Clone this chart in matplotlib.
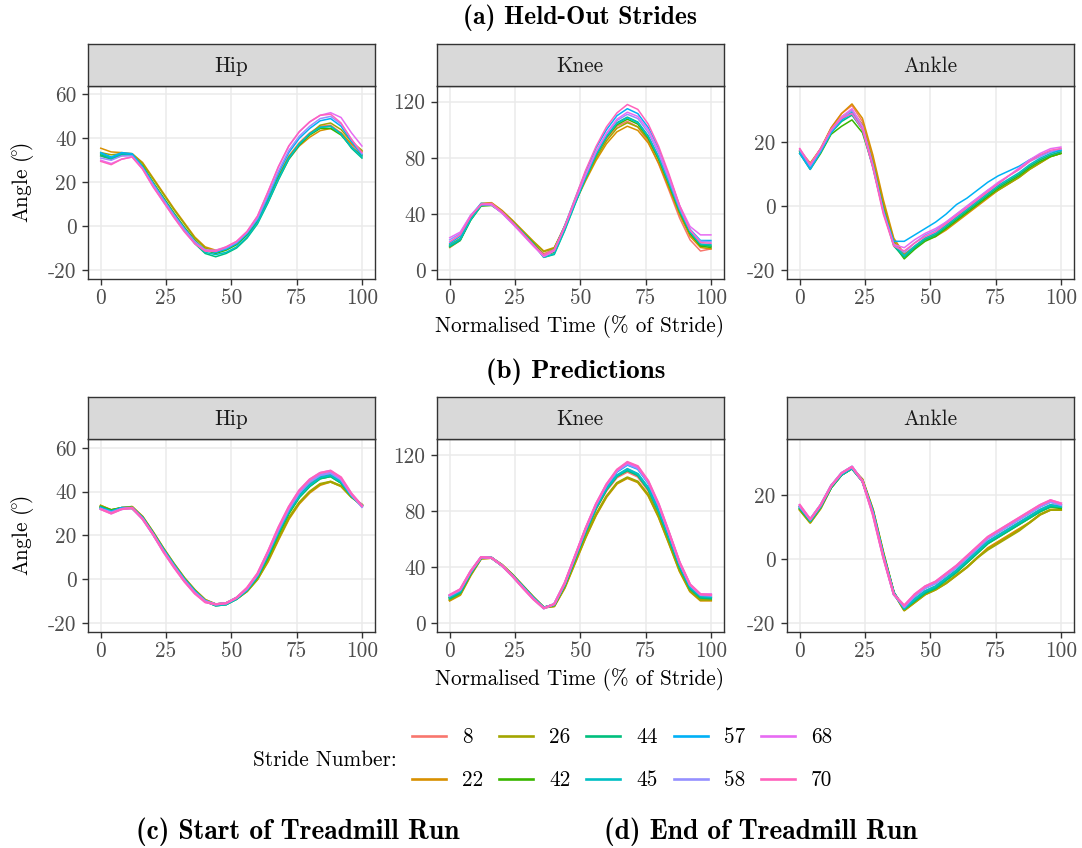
import matplotlib.pyplot as plt

plt.rcParams['font.family'] = ['cmr10', 'DejaVu Serif']
plt.rcParams['mathtext.fontset'] = 'cm'
plt.rcParams['axes.unicode_minus'] = False
plt.rcParams['axes.formatter.use_mathtext'] = True

strides = [8, 22, 26, 42, 44, 45, 57, 58, 68, 70]
colours = ['#F8766D', '#D89000', '#A3A500', '#39B600', '#00BF7D',
           '#00BFC4', '#00B0F6', '#9590FF', '#E76BF3', '#FF62BC']
pct = list(range(0, 101, 4))  # normalised time (% of stride)

# (a) held-out strides, joint angles in degrees
hip_held = {
    8:  [32.0, 30.5, 32.0, 32.5, 27.0, 19.5, 12.5, 5.5, -1.0, -7.0, -11.0, -12.0, -10.5, -8.0, -3.5, 3.0, 12.5, 23.0, 32.0, 38.0, 42.5, 45.5, 46.0, 42.5, 37.0, 32.5],
    22: [35.5, 33.8, 33.5, 33.0, 29.0, 22.0, 15.0, 8.0, 1.5, -5.0, -9.5, -11.0, -10.0, -8.0, -4.0, 2.0, 11.0, 21.5, 30.5, 36.5, 40.5, 43.5, 44.5, 42.5, 37.5, 34.0],
    26: [33.5, 32.5, 33.0, 33.0, 28.5, 21.5, 14.5, 7.5, 1.0, -5.5, -10.0, -11.5, -10.0, -8.0, -3.5, 2.5, 12.0, 22.5, 31.5, 37.5, 42.0, 46.0, 47.0, 44.0, 38.5, 34.5],
    42: [32.5, 31.0, 32.5, 32.5, 27.5, 20.0, 13.0, 6.0, -0.5, -6.5, -11.0, -12.5, -11.0, -8.5, -4.0, 2.0, 11.5, 22.0, 31.0, 37.0, 41.5, 44.5, 44.5, 41.5, 36.0, 32.0],
    44: [32.0, 30.5, 32.5, 32.5, 27.0, 19.5, 12.0, 5.0, -1.5, -8.0, -12.5, -14.0, -12.5, -10.0, -5.5, 1.0, 10.5, 21.0, 30.5, 37.0, 42.0, 45.0, 45.5, 42.0, 35.5, 31.0],
    45: [33.0, 31.0, 33.0, 32.5, 27.0, 19.5, 12.0, 5.0, -1.5, -7.5, -12.0, -13.0, -12.0, -9.5, -5.0, 1.5, 11.0, 21.5, 31.0, 37.5, 42.0, 45.0, 45.5, 42.0, 36.0, 31.5],
    57: [33.5, 31.5, 33.5, 33.0, 27.0, 19.5, 12.5, 5.5, -1.0, -7.0, -11.0, -12.0, -10.5, -8.0, -3.5, 3.0, 13.0, 24.0, 33.5, 40.0, 44.5, 48.0, 49.0, 45.5, 38.5, 32.5],
    58: [31.0, 30.0, 32.0, 32.0, 26.5, 19.0, 12.0, 5.0, -1.5, -7.0, -11.0, -11.5, -10.0, -7.5, -3.0, 3.5, 14.0, 25.0, 34.5, 41.0, 45.5, 49.0, 50.0, 46.5, 39.5, 33.0],
    68: [30.0, 28.5, 30.5, 31.5, 26.0, 18.0, 11.0, 4.0, -2.5, -8.0, -11.0, -11.0, -9.5, -7.0, -2.5, 4.5, 15.5, 27.0, 36.5, 43.0, 47.5, 50.5, 51.7, 49.5, 42.5, 36.5],
    70: [29.5, 28.0, 30.5, 31.5, 26.0, 18.0, 11.0, 4.0, -2.5, -8.0, -11.5, -11.5, -9.5, -7.0, -2.5, 4.5, 15.5, 27.0, 36.5, 43.0, 47.5, 50.5, 51.0, 47.0, 39.5, 33.5],
}
knee_held = {
    8:  [16.5, 21.5, 36.5, 47.0, 47.0, 41.0, 33.5, 26.0, 18.5, 11.5, 15.0, 31.5, 49.5, 66.0, 81.5, 93.5, 102.5, 106.0, 102.0, 91.5, 75.5, 56.5, 37.0, 21.5, 13.5, 15.0],
    22: [16.0, 21.0, 36.0, 47.5, 48.0, 42.5, 35.5, 28.0, 20.5, 13.5, 16.0, 31.0, 48.0, 63.5, 78.0, 90.0, 98.5, 102.5, 99.5, 90.5, 76.0, 58.0, 39.5, 24.0, 16.0, 15.0],
    26: [18.0, 22.5, 36.5, 47.0, 47.5, 42.0, 35.0, 27.5, 20.0, 13.0, 15.5, 31.0, 48.5, 64.5, 79.5, 92.0, 101.0, 105.0, 102.0, 93.0, 78.5, 60.0, 41.0, 25.5, 17.5, 17.0],
    42: [17.0, 21.5, 35.5, 45.5, 46.0, 41.0, 34.0, 26.5, 19.0, 10.5, 12.5, 29.5, 48.0, 65.5, 81.5, 94.5, 103.5, 107.5, 104.0, 94.0, 79.0, 60.5, 41.5, 26.0, 17.0, 16.0],
    44: [16.5, 21.0, 35.5, 46.0, 46.5, 41.0, 34.0, 26.5, 18.5, 9.0, 11.0, 28.0, 47.0, 65.5, 82.0, 95.5, 105.0, 109.0, 105.5, 95.5, 80.5, 62.0, 42.5, 27.0, 18.0, 17.0],
    45: [17.5, 22.0, 36.0, 46.0, 46.5, 41.0, 34.0, 26.5, 18.5, 9.0, 11.5, 28.5, 47.5, 65.5, 82.0, 95.0, 104.5, 108.5, 105.0, 95.0, 80.0, 61.5, 42.5, 27.0, 18.5, 18.0],
    57: [19.0, 24.0, 38.5, 47.5, 47.0, 41.0, 33.5, 25.5, 17.5, 10.0, 14.5, 31.5, 51.0, 70.0, 87.0, 100.0, 110.0, 115.0, 111.5, 101.5, 86.0, 66.5, 45.5, 29.0, 21.0, 21.0],
    58: [21.5, 26.0, 39.0, 47.0, 46.5, 40.5, 33.0, 25.5, 17.5, 10.0, 14.0, 30.5, 49.5, 67.5, 84.0, 97.0, 106.5, 111.0, 108.0, 98.0, 83.0, 64.0, 44.0, 28.5, 20.5, 20.0],
    68: [23.0, 27.0, 39.0, 46.5, 46.5, 40.5, 33.0, 25.0, 17.0, 9.5, 13.5, 30.5, 49.5, 68.0, 84.5, 97.5, 107.5, 112.5, 109.5, 100.0, 85.0, 66.0, 46.0, 31.0, 25.0, 25.0],
    70: [20.0, 25.0, 38.0, 47.0, 47.5, 41.5, 34.0, 26.0, 18.0, 10.5, 14.5, 31.0, 51.0, 71.0, 88.0, 102.0, 112.0, 118.0, 114.5, 104.0, 88.0, 68.0, 46.0, 28.5, 19.5, 19.0],
}
ankle_held = {
    8:  [17.5, 13.0, 18.0, 24.5, 29.0, 31.5, 26.5, 15.0, 1.0, -10.5, -15.0, -12.5, -10.0, -8.5, -6.0, -3.5, -1.0, 1.5, 4.0, 6.0, 8.0, 10.0, 12.5, 14.5, 16.0, 17.0],
    22: [17.5, 13.5, 18.0, 24.5, 29.0, 32.0, 27.5, 16.0, 2.0, -10.0, -15.0, -13.0, -10.5, -9.5, -7.5, -5.0, -2.5, 0.0, 2.5, 5.0, 7.0, 9.0, 11.5, 13.5, 15.5, 16.5],
    26: [17.0, 13.0, 18.0, 24.0, 28.0, 30.0, 25.5, 14.0, 0.5, -11.0, -15.5, -13.0, -10.5, -9.0, -7.0, -4.5, -2.0, 0.5, 3.0, 5.0, 7.0, 9.0, 11.5, 13.5, 15.5, 16.5],
    42: [16.5, 11.5, 16.5, 22.5, 25.0, 27.0, 23.0, 12.5, -1.0, -12.0, -16.5, -13.5, -11.0, -9.5, -7.0, -4.5, -2.0, 0.5, 3.0, 5.5, 7.5, 9.5, 12.0, 14.0, 15.5, 16.5],
    44: [17.0, 12.0, 17.0, 23.0, 26.5, 28.5, 24.0, 12.5, -1.5, -12.5, -16.0, -13.0, -10.5, -9.0, -6.5, -4.0, -1.5, 1.0, 3.5, 6.0, 8.0, 10.0, 12.5, 14.5, 16.0, 17.0],
    45: [16.5, 12.0, 17.0, 23.0, 27.0, 29.5, 24.5, 13.0, -1.0, -12.0, -15.5, -12.5, -10.0, -8.5, -6.0, -3.5, -1.0, 1.5, 4.0, 6.5, 8.5, 10.5, 13.0, 15.0, 16.5, 17.5],
    57: [16.5, 11.5, 17.0, 23.0, 27.0, 29.0, 24.0, 12.0, -1.5, -11.0, -11.0, -9.0, -7.0, -5.0, -2.5, 0.5, 2.5, 5.0, 7.5, 9.5, 11.0, 12.5, 14.5, 16.0, 17.0, 17.5],
    58: [17.5, 12.5, 17.5, 23.5, 27.5, 30.0, 25.0, 13.0, -1.5, -12.0, -14.5, -11.5, -9.0, -7.5, -5.0, -2.5, 0.0, 2.5, 5.0, 7.0, 9.5, 11.5, 14.0, 15.5, 17.0, 18.0],
    68: [18.0, 13.0, 18.0, 24.0, 28.0, 30.5, 25.0, 12.5, -2.0, -12.0, -13.0, -10.5, -8.5, -7.0, -5.0, -2.5, 0.0, 2.5, 5.0, 7.5, 9.5, 12.0, 14.5, 16.5, 18.0, 18.5],
    70: [18.0, 13.0, 18.0, 24.0, 27.5, 29.0, 24.0, 12.0, -2.5, -12.5, -14.0, -11.5, -9.5, -8.0, -5.5, -3.0, -0.5, 2.0, 4.5, 7.0, 9.5, 11.5, 14.0, 16.0, 17.5, 18.0],
}

# (b) predictions
hip_pred = {
    8:  [33.0, 31.0, 32.5, 32.5, 28.0, 21.0, 13.5, 6.5, 0.0, -5.5, -10.0, -11.5, -11.0, -8.5, -4.5, 1.5, 11.0, 21.5, 31.0, 38.5, 43.5, 47.0, 48.0, 45.0, 38.5, 33.5],
    22: [33.5, 31.5, 32.5, 33.0, 28.5, 21.5, 14.0, 7.0, 0.5, -5.0, -9.5, -11.5, -11.0, -9.0, -5.5, 0.0, 8.0, 18.0, 27.5, 34.5, 39.5, 43.0, 44.5, 42.5, 37.5, 34.0],
    26: [33.5, 31.5, 32.5, 33.0, 28.5, 21.5, 14.0, 7.0, 0.5, -5.0, -9.5, -11.5, -11.0, -9.0, -5.5, 0.0, 8.5, 18.5, 28.0, 35.0, 40.0, 43.5, 44.5, 42.5, 37.5, 34.0],
    42: [33.0, 31.5, 32.5, 32.5, 28.0, 21.0, 13.5, 6.5, 0.0, -5.5, -10.0, -12.0, -11.5, -9.0, -5.0, 1.0, 10.0, 20.5, 30.0, 37.5, 42.5, 46.0, 47.0, 44.0, 38.0, 33.5],
    44: [33.0, 31.0, 32.5, 32.5, 28.0, 21.0, 13.5, 6.5, 0.0, -5.5, -10.0, -12.0, -11.5, -9.0, -5.0, 1.0, 10.5, 21.0, 30.5, 37.5, 42.5, 46.0, 47.0, 44.0, 38.0, 33.5],
    45: [32.5, 31.0, 32.5, 32.5, 28.0, 21.0, 13.5, 6.5, 0.0, -5.5, -10.0, -12.0, -11.5, -9.0, -5.0, 1.5, 11.0, 21.5, 31.0, 38.0, 43.0, 46.5, 47.5, 44.5, 38.0, 33.5],
    57: [32.5, 30.5, 32.5, 32.5, 28.0, 20.5, 13.0, 6.0, -0.5, -6.0, -10.0, -11.5, -11.0, -8.5, -4.5, 2.0, 12.0, 22.5, 32.0, 39.5, 44.5, 47.5, 48.5, 45.5, 38.5, 33.5],
    58: [32.0, 30.5, 32.0, 32.5, 27.5, 20.5, 13.0, 6.0, -0.5, -6.0, -10.0, -11.5, -11.0, -8.5, -4.5, 2.0, 12.0, 22.5, 32.0, 39.5, 44.5, 47.5, 48.5, 45.5, 38.5, 33.0],
    68: [32.0, 30.0, 32.0, 32.5, 27.5, 20.5, 12.5, 5.5, -1.0, -6.5, -10.5, -11.5, -11.0, -8.5, -4.0, 2.5, 12.5, 23.5, 33.0, 40.5, 45.5, 48.5, 49.5, 46.0, 39.0, 33.5],
    70: [32.0, 30.0, 32.0, 32.5, 27.5, 20.5, 12.5, 5.5, -1.0, -6.5, -10.5, -11.5, -11.0, -8.5, -4.0, 2.5, 12.5, 23.5, 33.0, 40.5, 45.5, 48.5, 49.5, 46.5, 39.0, 33.5],
}
knee_pred = {
    8:  [18.0, 22.0, 35.5, 46.5, 46.5, 41.0, 34.0, 26.0, 18.0, 11.0, 13.0, 27.0, 46.0, 64.5, 81.5, 94.5, 104.0, 108.0, 104.5, 94.5, 78.5, 59.0, 39.5, 24.5, 18.0, 17.5],
    22: [16.0, 20.0, 34.0, 46.0, 46.5, 41.5, 34.5, 26.5, 18.5, 11.0, 12.0, 25.0, 43.0, 61.0, 77.0, 90.0, 99.5, 103.5, 100.5, 91.0, 75.5, 56.5, 37.0, 22.5, 16.0, 16.0],
    26: [16.5, 20.5, 34.5, 46.0, 46.5, 41.5, 34.5, 26.5, 18.5, 11.0, 12.0, 25.5, 43.5, 61.5, 77.5, 90.5, 100.0, 104.0, 101.0, 91.5, 76.0, 57.0, 37.5, 23.0, 16.5, 16.5],
    42: [18.0, 22.0, 35.5, 46.5, 46.5, 41.0, 34.0, 26.0, 18.0, 11.0, 13.0, 27.0, 46.0, 65.0, 82.0, 95.5, 105.0, 109.5, 106.0, 96.0, 80.0, 60.5, 40.5, 25.0, 18.5, 18.0],
    44: [17.5, 21.5, 35.5, 46.5, 46.5, 41.0, 34.0, 26.0, 18.0, 11.0, 13.0, 27.0, 46.0, 65.0, 82.0, 95.5, 105.0, 109.0, 105.5, 95.5, 79.5, 60.0, 40.0, 24.5, 18.0, 17.5],
    45: [18.5, 22.5, 36.0, 46.5, 46.5, 41.0, 34.0, 26.0, 18.0, 11.0, 13.0, 27.5, 46.5, 65.5, 82.5, 96.0, 105.5, 110.0, 106.5, 96.5, 80.5, 61.0, 41.0, 25.5, 19.0, 18.5],
    57: [19.5, 23.5, 36.5, 47.0, 46.5, 41.0, 33.5, 25.5, 17.5, 10.5, 13.5, 28.0, 47.5, 67.0, 84.0, 98.0, 108.0, 113.0, 110.0, 100.0, 83.5, 63.5, 42.5, 26.5, 20.0, 19.5],
    58: [19.5, 23.5, 36.5, 47.0, 46.5, 41.0, 33.5, 25.5, 17.5, 10.5, 13.5, 28.0, 47.5, 67.0, 84.5, 98.5, 108.5, 113.5, 110.5, 100.5, 84.0, 64.0, 43.0, 27.0, 20.0, 19.5],
    68: [20.0, 24.0, 37.0, 47.0, 46.5, 41.0, 33.5, 25.0, 17.0, 10.5, 13.5, 28.5, 48.0, 67.5, 85.0, 99.0, 109.0, 114.5, 111.5, 101.0, 84.5, 64.0, 43.0, 27.5, 20.5, 20.5],
    70: [20.0, 24.0, 37.0, 47.0, 46.5, 41.0, 33.5, 25.0, 17.0, 10.5, 13.5, 28.5, 48.0, 67.5, 85.0, 99.0, 109.5, 115.0, 112.0, 101.5, 85.0, 64.5, 43.5, 27.5, 20.5, 20.0],
}
ankle_pred = {
    8:  [16.5, 12.0, 16.5, 23.0, 26.5, 28.5, 24.5, 15.0, 1.0, -10.5, -15.5, -12.5, -10.0, -8.5, -6.0, -3.5, -0.5, 2.5, 5.5, 7.5, 9.5, 11.5, 13.5, 15.5, 17.0, 16.5],
    22: [15.5, 11.5, 16.0, 22.5, 26.5, 28.5, 25.0, 15.5, 2.0, -10.5, -16.0, -13.5, -11.0, -9.5, -7.5, -5.0, -2.5, 0.5, 3.5, 5.5, 7.5, 9.5, 11.5, 14.0, 15.5, 15.5],
    26: [15.5, 11.5, 16.0, 22.5, 26.5, 28.5, 25.0, 15.5, 2.0, -10.5, -16.0, -13.5, -11.0, -9.5, -7.5, -5.0, -2.5, 0.5, 3.0, 5.0, 7.0, 9.0, 11.5, 14.0, 15.5, 15.5],
    42: [16.0, 12.0, 16.5, 22.5, 26.5, 28.5, 24.5, 15.0, 1.5, -10.5, -15.5, -13.0, -10.5, -9.0, -6.5, -4.0, -1.0, 2.0, 5.0, 7.0, 9.0, 11.0, 13.0, 15.0, 16.5, 16.0],
    44: [16.0, 12.0, 16.5, 22.5, 26.5, 28.5, 24.5, 15.0, 1.5, -10.5, -15.5, -13.0, -10.5, -9.0, -6.5, -4.0, -1.0, 2.0, 5.0, 7.0, 9.0, 11.0, 13.0, 15.0, 16.5, 16.5],
    45: [16.5, 12.0, 16.5, 23.0, 26.5, 28.5, 24.5, 15.0, 1.0, -10.5, -15.5, -12.5, -10.0, -8.5, -6.0, -3.5, -0.5, 2.5, 5.5, 7.5, 9.5, 11.5, 13.5, 15.5, 17.0, 16.5],
    57: [16.5, 12.5, 17.0, 23.0, 27.0, 29.0, 24.5, 14.5, 1.0, -11.0, -15.0, -11.5, -9.0, -7.5, -5.0, -2.5, 0.5, 3.5, 6.5, 8.5, 10.5, 12.5, 14.5, 16.5, 18.0, 17.0],
    58: [16.5, 12.5, 17.0, 23.0, 27.0, 29.0, 24.5, 14.5, 1.0, -11.0, -15.0, -11.5, -9.0, -7.5, -5.0, -2.5, 0.5, 3.5, 6.5, 8.5, 10.5, 12.5, 14.5, 16.5, 18.0, 17.0],
    68: [17.0, 12.5, 17.0, 23.0, 27.0, 29.0, 24.5, 14.0, 0.5, -11.0, -14.5, -11.0, -8.5, -7.0, -4.5, -2.0, 1.0, 4.0, 7.0, 9.0, 11.0, 13.0, 15.0, 17.0, 18.5, 17.5],
    70: [17.0, 12.5, 17.0, 23.0, 27.0, 29.0, 24.5, 14.0, 0.5, -11.0, -14.5, -11.0, -8.5, -7.0, -4.5, -2.0, 1.0, 4.0, 7.0, 9.0, 11.0, 13.0, 15.0, 17.0, 18.5, 17.5],
}

joints = ['Hip', 'Knee', 'Ankle']
yticks = {'Hip': [-20, 0, 20, 40, 60], 'Knee': [0, 40, 80, 120], 'Ankle': [-20, 0, 20]}
ylims = {'Hip': (-24, 64), 'Knee': (-6.25, 131.4), 'Ankle': (-22.7, 37.7)}
xticks = [0, 25, 50, 75, 100]

W, H = 1082, 848
fig = plt.figure(figsize=(W / 100, H / 100), dpi=100)


def rect(l, t, r, b):
    # pixel box (from top-left) -> figure fraction
    return [l / W, 1 - b / H, (r - l) / W, (b - t) / H]


def ftext(x, y, s, **kw):
    return fig.text(x / W, 1 - y / H, s, **kw)


cols = [(87.7, 375.0), (436.7, 724.0), (786.7, 1074.0)]
rows = [(44.3, 85.7, 278.7, [hip_held, knee_held, ankle_held], 1.1),
        (397.3, 439.0, 631.7, [hip_pred, knee_pred, ankle_pred], 1.6)]

FS = 15.3
handles = []
for strip_top, top, bottom, data, lw in rows:
    for (left, right), joint, curves in zip(cols, joints, data):
        ax = fig.add_axes(rect(left, top, right, bottom))
        lines = []
        for s, c in zip(strides, colours):
            ln, = ax.plot(pct, curves[s], color=c, lw=lw,
                          solid_joinstyle='round')
            lines.append(ln)
        if not handles:
            handles = lines
        ax.set_xlim(-5, 105)
        ax.set_ylim(*ylims[joint])
        ax.set_xticks(xticks)
        ax.set_xticklabels([str(t) for t in xticks])
        ax.set_yticks(yticks[joint])
        ax.set_yticklabels([str(t) for t in yticks[joint]])
        ax.grid(True, color='#EBEBEB', lw=1.1)
        ax.set_axisbelow(True)
        for sp in ax.spines.values():
            sp.set_color('#333333')
            sp.set_linewidth(1.0)
        ax.tick_params(axis='both', direction='out', length=4.5, width=1.0,
                       color='#333333', labelcolor='#4D4D4D', labelsize=FS)
        ax.tick_params(axis='x', pad=2.5)
        ax.tick_params(axis='y', pad=3.5)

        st = fig.add_axes(rect(left, strip_top, right, top))
        st.set_facecolor('#D9D9D9')
        st.set_xticks([])
        st.set_yticks([])
        for sp in st.spines.values():
            sp.set_color('#333333')
            sp.set_linewidth(1.0)
        st.text(0.5, 0.47, joint, ha='center', va='center', fontsize=FS,
                color='#1A1A1A', transform=st.transAxes)

    ftext(22, (top + bottom) / 2, r'Angle ($\!^{\circ}\!$)', rotation=90,
          ha='center', va='center', fontsize=FS)
    ftext(580, bottom + 48, 'Normalised Time (% of Stride)',
          ha='center', va='center', fontsize=FS)

ftext(580, 18, '(a) Held-Out Strides', ha='center', va='center',
      fontsize=18.5, fontfamily='cmb10')
ftext(576, 371.5, '(b) Predictions', ha='center', va='center',
      fontsize=19.5, fontfamily='cmb10')

ftext(253, 760, 'Stride Number:', ha='left', va='center', fontsize=FS)
fig.legend(handles, [str(s) for s in strides], ncol=5, loc='center',
           bbox_to_anchor=(622 / W, 1 - 759 / H), frameon=False,
           fontsize=FS, handlelength=1.6, handletextpad=0.75,
           columnspacing=0.75, labelspacing=1.1, borderpad=0,
           borderaxespad=0)
for lh in fig.legends[0].get_lines():
    lh.set_linewidth(1.9)

ftext(298, 832, '(c) Start of Treadmill Run', ha='center', va='center',
      fontsize=19.8, fontfamily='cmb10')
ftext(761, 832, '(d) End of Treadmill Run', ha='center', va='center',
      fontsize=19.8, fontfamily='cmb10')

fig.savefig('out.png', dpi=100)
